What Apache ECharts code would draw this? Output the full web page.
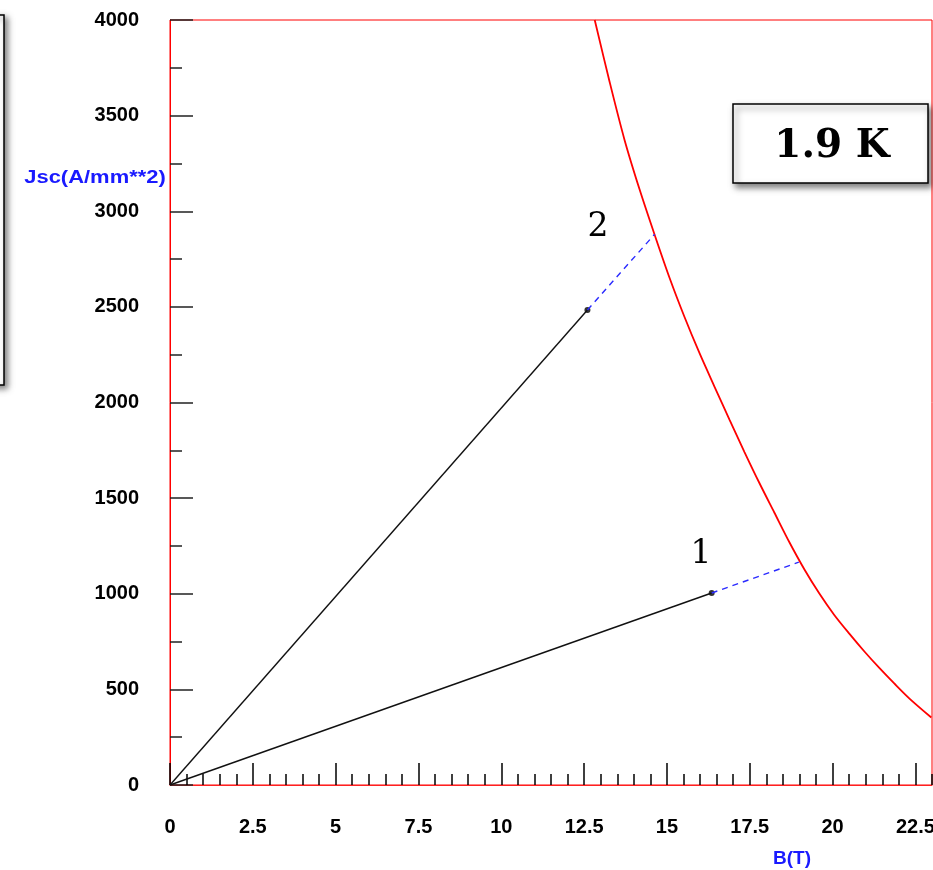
<!DOCTYPE html>
<html><head><meta charset="utf-8">
<script src="https://cdn.jsdelivr.net/npm/echarts@6/dist/echarts.min.js"></script>
<style>html,body{margin:0;padding:0;background:#fff}#c{width:933px;height:870px}</style>
</head><body><div id="c"></div>
<script>
// Critical surface Jc(B) at 1.9 K
const curveB = [12.82, 13.27, 13.72, 14.17, 14.63, 15.08, 15.53, 15.98, 16.44, 16.89, 17.34, 17.79,
                18.24, 18.70, 19.15, 19.60, 20.05, 20.51, 20.96, 21.41, 21.86, 22.32, 22.98];
const curveJ = [4000, 3676, 3373, 3116, 2876, 2651, 2447, 2259, 2081, 1909, 1741, 1579,
                1425, 1268, 1127, 1001, 889, 790, 698, 612, 531, 452, 353];
// Load lines (operating point) and extension to the critical surface
const load1B = [0, 16.35];
const load1J = [0, 1004];
const ext1B = [16.35, 18.98];
const ext1J = [1004, 1165];
const load2B = [0, 12.6];
const load2J = [0, 2484];
const ext2B = [12.6, 14.63];
const ext2J = [2484, 2880];
const xTickLabels = [0, 2.5, 5, 7.5, 10, 12.5, 15, 17.5, 20, 22.5];
const yTickLabels = [0, 500, 1000, 1500, 2000, 2500, 3000, 3500, 4000];

const zip = (a, b) => a.map((v, i) => [v, b[i]]);
const chart = echarts.init(document.getElementById('c'));
const lblFont = {fontFamily: 'Liberation Sans', fontWeight: 'bold', fontSize: 20, color: '#000'};
chart.setOption({
  animation: false,
  backgroundColor: '#fff',
  grid: {left: 170, top: 20, right: 1, bottom: 85, show: true, borderColor: '#ff0000', borderWidth: 1,
         containLabel: false, outerBoundsMode: 'none'},
  xAxis: [{
    type: 'value', min: 0, max: 23, position: 'bottom',
    axisLine: {show: true, lineStyle: {color: '#ff2020', width: 1}},
    axisTick: {show: true, inside: true, length: 22, customValues: xTickLabels, lineStyle: {color: '#000', width: 1.5}},
    axisLabel: Object.assign({show: true, margin: 32, customValues: xTickLabels, formatter: v => String(v)}, lblFont),
    splitLine: {show: false}
  }, {
    type: 'value', min: 0, max: 23, interval: 0.5, position: 'bottom',
    axisLine: {show: false},
    axisTick: {show: true, inside: true, length: 11, lineStyle: {color: '#000', width: 1.5}},
    axisLabel: {show: false},
    splitLine: {show: false}
  }],
  yAxis: {
    type: 'value', min: 0, max: 4000, interval: 500,
    axisLine: {show: true, lineStyle: {color: '#ff0000', width: 1}},
    axisTick: {show: true, inside: true, length: 23, lineStyle: {color: '#222', width: 1.5}},
    minorTick: {show: true, splitNumber: 2, length: 12, lineStyle: {color: '#222', width: 1.5}},
    axisLabel: Object.assign({show: true, margin: 31, customValues: yTickLabels, formatter: v => String(v)}, lblFont),
    splitLine: {show: false}
  },
  series: [
    {type: 'line', data: zip(curveB, curveJ), smooth: 0.3, symbol: 'none', clip: true,
     lineStyle: {color: '#ff0000', width: 1.8}},
    {type: 'line', data: zip(load1B, load1J), symbol: 'none', lineStyle: {color: '#111', width: 1.4}},
    {type: 'line', data: zip(load2B, load2J), symbol: 'none', lineStyle: {color: '#111', width: 1.4}},
    {type: 'line', data: zip(ext1B, ext1J), symbol: 'none', lineStyle: {color: '#2a2aff', width: 1.4, type: [6, 5]}},
    {type: 'line', data: zip(ext2B, ext2J), symbol: 'none', lineStyle: {color: '#2a2aff', width: 1.4, type: [6, 5]}},
    {type: 'scatter', data: [[load1B[1], load1J[1]], [load2B[1], load2J[1]]], symbol: 'circle', symbolSize: 6,
     itemStyle: {color: '#000'}}
  ],
  graphic: [
    {type: 'rect', shape: {x: -200, y: 15, width: 204, height: 370}, z: 10,
     style: {fill: '#fff', stroke: '#000', lineWidth: 1.5, shadowBlur: 6, shadowOffsetX: 3, shadowOffsetY: 3, shadowColor: 'rgba(0,0,0,0.5)'}},
    {type: 'text', x: 95, y: 178, z: 10, scaleX: 1.22, originX: 0, originY: 0,
     style: {text: 'Jsc(A/mm**2)', fill: '#1a1aff', font: 'bold 18px "Liberation Sans"', align: 'center', verticalAlign: 'middle'}},
    {type: 'text', x: 792, y: 859, z: 10,
     style: {text: 'B(T)', fill: '#1a1aff', font: 'bold 19px "Liberation Sans"', align: 'center', verticalAlign: 'middle'}},
    {type: 'rect', shape: {x: 733, y: 104, width: 195, height: 79}, z: 10,
     style: {fill: '#fff', stroke: '#000', lineWidth: 1.5, shadowBlur: 6, shadowOffsetX: 3, shadowOffsetY: 4, shadowColor: 'rgba(0,0,0,0.5)'}},
    {type: 'text', x: 832, y: 147, z: 11,
     style: {text: '1.9 K', fill: '#000', font: 'bold 39px "DejaVu Serif"', align: 'center', verticalAlign: 'middle'}},
    {type: 'text', x: 598, y: 227, z: 10,
     style: {text: '2', fill: '#000', font: '33px "DejaVu Serif"', align: 'center', verticalAlign: 'middle'}},
    {type: 'text', x: 701, y: 554, z: 10,
     style: {text: '1', fill: '#000', font: '33px "DejaVu Serif"', align: 'center', verticalAlign: 'middle'}}
  ]
});
</script></body></html>
